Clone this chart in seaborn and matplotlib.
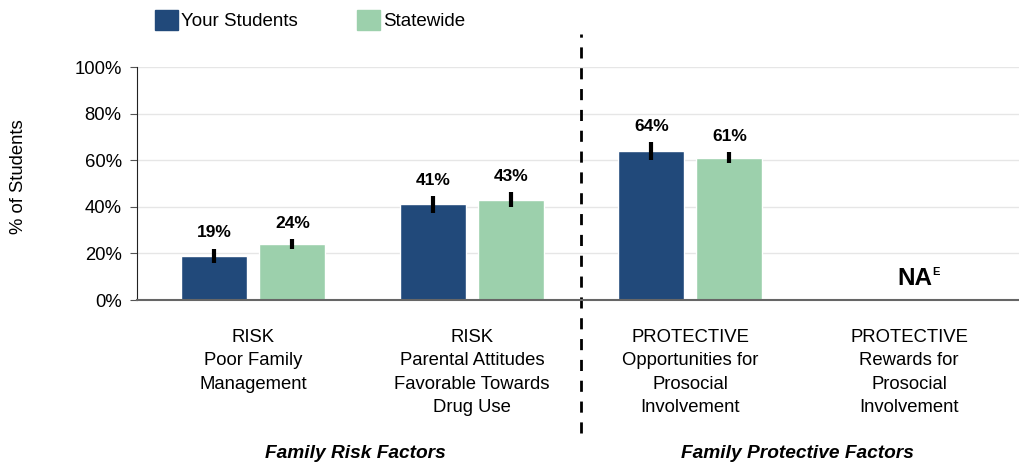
import numpy as np
import pandas as pd
import matplotlib
matplotlib.use("Agg")
import matplotlib.pyplot as plt
import seaborn as sns

# data
categories = ["RISK\nPoor Family\nManagement",
              "RISK\nParental Attitudes\nFavorable Towards\nDrug Use",
              "PROTECTIVE\nOpportunities for\nProsocial\nInvolvement",
              "PROTECTIVE\nRewards for\nProsocial\nInvolvement"]
your_students = [19, 41, 64, np.nan]
statewide = [24, 43, 61, np.nan]
your_err = [3.0, 3.6, 3.8, np.nan]
state_err = [2.2, 3.2, 2.4, np.nan]
series = ["Your Students", "Statewide"]
colors = ["#21497A", "#9CD0AC"]
group_labels = ["Family Risk Factors", "Family Protective Factors"]

sns.set_style("white")
plt.rcParams['font.family'] = ['Liberation Sans', 'DejaVu Sans']
plt.rcParams['text.color'] = 'black'
plt.rcParams['xtick.color'] = 'black'
plt.rcParams['ytick.color'] = 'black'
plt.rcParams['axes.labelcolor'] = 'black'

rows = []
for i, c in enumerate(categories):
    for s, vals, errs in [(series[0], your_students, your_err), (series[1], statewide, state_err)]:
        if not np.isnan(vals[i]):
            rows.append({"cat": c, "series": s, "value": vals[i], "err": errs[i]})
df = pd.DataFrame(rows)

fig = plt.figure(figsize=(10.2, 4.67), dpi=100)
ax = fig.add_axes([0.1343, 0.3576, 0.8657, 0.4989])

sns.barplot(data=df, x="cat", y="value", hue="series", order=categories,
            hue_order=series, palette=colors, width=0.714, gap=0.154,
            errorbar=None, saturation=1, ax=ax, legend=False)

# error bars + value labels
for cont, s in zip(ax.containers, series):
    sub = df[df["series"] == s].set_index("cat")
    for bar in cont:
        h = bar.get_height()
        if np.isnan(h):
            continue
        xc = bar.get_x() + bar.get_width() / 2
        cat = categories[int(round(xc))]
        e = sub.loc[cat, "err"]
        ax.plot([xc, xc], [h - e, h + e], color="black", lw=3, solid_capstyle="butt", zorder=4)
        ax.annotate(f"{h:.0f}%", (xc, h + e), xytext=(0, 6), textcoords="offset points",
                    ha="center", va="bottom", fontsize=12.5, fontweight="bold")

# NA label for missing category
ax.annotate("NA", (3, 0), xytext=(16.5, 10.8), textcoords="offset points",
            ha="right", va="baseline", fontsize=17.5, fontweight="bold")
ax.annotate("E", (3, 0), xytext=(16.8, 18), textcoords="offset points",
            ha="left", va="baseline", fontsize=8, fontweight="bold")

ax.set_xlim(-0.533, 3.508)
ax.set_ylim(0, 100)
ax.set_yticks(range(0, 101, 20))
ax.set_yticklabels([f"{v}%" for v in range(0, 101, 20)], fontsize=13.3)
ax.set_xticks(range(4))
ax.set_xticklabels(categories, fontsize=13.3, linespacing=1.48)
ax.tick_params(axis="x", length=0, pad=21)
ax.tick_params(axis="y", length=5, width=0.8, color="#555555", direction="out", pad=6, left=True)
ax.set_xlabel("")
ax.set_ylabel("% of Students", fontsize=13.3)
ax.yaxis.set_label_coords(-0.124, 0.53)
ax.grid(axis="y", color="#e6e6e6", lw=1)
ax.set_axisbelow(True)
for sp in ["top", "right"]:
    ax.spines[sp].set_visible(False)
ax.spines["left"].set_color("#222222")
ax.spines["bottom"].set_color("#666666")
ax.spines["bottom"].set_linewidth(1.5)

# divider between risk and protective groups
ax.axvline(1.5, ymin=-0.57, ymax=1.14, color="black", lw=2, ls=(0, (4, 3.5)), clip_on=False)

# group labels
fig.text(355 / 1020, 1 - 453 / 467, group_labels[0], ha="center", va="center",
         fontsize=13.8, fontweight="bold", style="italic")
fig.text(797.5 / 1020, 1 - 453 / 467, group_labels[1], ha="center", va="center",
         fontsize=13.8, fontweight="bold", style="italic")

# legend
handles = [plt.Rectangle((0, 0), 1, 1, color=c) for c in colors]
fig.legend(handles, series, loc="upper left", bbox_to_anchor=(138 / 1020, 1.015), ncol=2,
           frameon=False, fontsize=13.5, handlelength=1.25, handleheight=1.25,
           handletextpad=0.15, columnspacing=3.15)

fig.savefig("out.png", dpi=100)
